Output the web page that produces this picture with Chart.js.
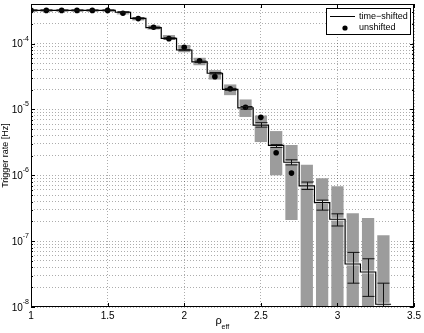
<!DOCTYPE html>
<html>
<head>
<meta charset="utf-8">
<script src="https://cdn.jsdelivr.net/npm/chart.js@4/dist/chart.umd.min.js"></script>
<style>
  html, body { margin: 0; padding: 0; background: #fff; }
  #wrap { width: 424px; height: 333px; }
</style>
</head>
<body>
<div id="wrap"><canvas id="chart" width="424" height="333"></canvas></div>
<script>
// bin centres of rho_eff
const bins = [1.0, 1.1, 1.2, 1.3, 1.4, 1.5, 1.6, 1.7, 1.8, 1.9, 2.0, 2.1,
  2.2, 2.3, 2.4, 2.5, 2.6, 2.7, 2.8, 2.9, 3.0, 3.1, 3.2, 3.3];

// time-shifted trigger rate (step line) and its error bars
const timeShifted = [3.2e-4, 3.2e-4, 3.2e-4, 3.2e-4, 3.2e-4, 3.2e-4, 3.0e-4, 2.42e-4,
  1.75e-4, 1.2e-4, 8.0e-5, 5.3e-5, 3.55e-5, 2.02e-5, 1.06e-5, 5.8e-6, 2.85e-6,
  1.58e-6, 6.9e-7, 3.85e-7, 2.15e-7, 4.5e-8, 3.4e-8, 1.1e-8];
const timeShiftedLow = [3.15e-4, 3.15e-4, 3.15e-4, 3.15e-4, 3.15e-4, 3.15e-4, 2.95e-4, 2.37e-4,
  1.71e-4, 1.17e-4, 7.8e-5, 5.15e-5, 3.45e-5, 1.95e-5, 1.01e-5, 5.4e-6, 2.65e-6,
  1.44e-6, 6.1e-7, 2.96e-7, 1.7e-7, 2.3e-8, 1.45e-8, 5e-9];
const timeShiftedHigh = [3.25e-4, 3.25e-4, 3.25e-4, 3.25e-4, 3.25e-4, 3.25e-4, 3.05e-4, 2.47e-4,
  1.79e-4, 1.23e-4, 8.2e-5, 5.45e-5, 3.65e-5, 2.09e-5, 1.11e-5, 6.3e-6, 2.95e-6,
  1.72e-6, 7.9e-7, 4.2e-7, 2.6e-7, 6.75e-8, 5.4e-8, 2.3e-8];

// unshifted trigger rate (dots), null = no triggers
const unshifted = [3.2e-4, 3.2e-4, 3.2e-4, 3.2e-4, 3.2e-4, 3.2e-4, 2.9e-4, 2.4e-4,
  1.77e-4, 1.19e-4, 8.8e-5, 5.5e-5, 3.15e-5, 2.06e-5, 1.08e-5, 7.6e-6, 2.2e-6,
  1.08e-6, null, null, null, null, null, null];

// grey uncertainty boxes, null low = reaches down to zero
const boxLow = [3.05e-4, 3.05e-4, 3.05e-4, 3.05e-4, 3.05e-4, 3.05e-4, 2.78e-4, 2.25e-4,
  1.63e-4, 1.15e-4, 7.4e-5, 4.7e-5, 2.85e-5, 1.65e-5, 7.7e-6, 3.2e-6, 1.0e-6,
  2.1e-7, null, null, null, null, null, null];
const boxHigh = [3.35e-4, 3.35e-4, 3.35e-4, 3.35e-4, 3.35e-4, 3.35e-4, 3.13e-4, 2.51e-4,
  1.89e-4, 1.35e-4, 9.55e-5, 6.1e-5, 3.95e-5, 2.4e-5, 1.42e-5, 8.1e-6, 4.7e-6,
  2.9e-6, 1.45e-6, 9.0e-7, 6.8e-7, 2.65e-7, 2.25e-7, 1.23e-7];

const xTicks = [1, 1.5, 2, 2.5, 3, 3.5];
const yMin = 1e-8, yMax = 4e-4;

const FONT = '"Liberation Sans", Arial, sans-serif';
const half = (bins[1] - bins[0]) / 2;

// step line: value held across each bin
const stepData = bins.map((b, i) => ({ x: b - half, y: timeShifted[i] }));
stepData.push({ x: bins[bins.length - 1] + half, y: timeShifted[timeShifted.length - 1] });

const isDecade = v => Math.abs(Math.log10(v) - Math.round(Math.log10(v))) < 1e-6;

const matlabLook = {
  id: 'matlabLook',
  afterDatasetsDraw(chart) {
    const { ctx, chartArea: a, scales: { x, y } } = chart;
    // error bars on the time-shifted curve
    ctx.save();
    ctx.beginPath();
    ctx.rect(a.left, a.top, a.right - a.left, a.bottom - a.top);
    ctx.clip();
    ctx.strokeStyle = '#111';
    ctx.lineWidth = 1;
    bins.forEach((b, i) => {
      const px = Math.round(x.getPixelForValue(b)) + 0.5;
      const lo = y.getPixelForValue(timeShiftedLow[i]);
      const hi = y.getPixelForValue(timeShiftedHigh[i]);
      ctx.beginPath();
      ctx.moveTo(px, lo); ctx.lineTo(px, hi);
      ctx.moveTo(px - 6, lo); ctx.lineTo(px + 6, lo);
      ctx.moveTo(px - 6, hi); ctx.lineTo(px + 6, hi);
      ctx.stroke();
    });
    ctx.restore();
  },
  afterDraw(chart) {
    const { ctx, chartArea: a, scales: { x, y } } = chart;
    ctx.save();
    ctx.strokeStyle = '#000';
    ctx.lineWidth = 1;
    // frame
    ctx.strokeRect(Math.round(a.left) + 0.5, Math.round(a.top) + 0.5,
      Math.round(a.right - a.left) - 1, Math.round(a.bottom - a.top) - 1);
    // inward tick marks
    ctx.beginPath();
    xTicks.forEach(v => {
      const px = Math.round(x.getPixelForValue(v)) + 0.5;
      ctx.moveTo(px, a.bottom); ctx.lineTo(px, a.bottom - 4);
      ctx.moveTo(px, a.top); ctx.lineTo(px, a.top + 4);
    });
    y.ticks.forEach(t => {
      const py = Math.round(y.getPixelForValue(t.value)) + 0.5;
      const len = isDecade(t.value) ? 4 : 2;
      ctx.moveTo(a.left, py); ctx.lineTo(a.left + len, py);
      ctx.moveTo(a.right, py); ctx.lineTo(a.right - len, py);
    });
    ctx.stroke();

    // y tick labels 10^n
    ctx.fillStyle = '#000';
    y.ticks.filter(t => isDecade(t.value)).forEach(t => {
      const py = y.getPixelForValue(t.value);
      const e = String(Math.round(Math.log10(t.value)));
      ctx.font = '7px ' + FONT;
      const ew = ctx.measureText(e).width;
      ctx.textAlign = 'left';
      ctx.textBaseline = 'middle';
      ctx.fillText(e, 29 - ew, py - 5);
      ctx.font = '10px ' + FONT;
      ctx.textAlign = 'right';
      ctx.fillText('10', 29 - ew, py + 1);
    });

    // axis titles
    ctx.font = '9px ' + FONT;
    ctx.textAlign = 'center';
    ctx.textBaseline = 'middle';
    ctx.save();
    ctx.translate(6, (a.top + a.bottom) / 2);
    ctx.rotate(-Math.PI / 2);
    ctx.fillText('Trigger rate [Hz]', 0, 0);
    ctx.restore();
    const cx = (a.left + a.right) / 2;
    ctx.textAlign = 'left';
    ctx.textBaseline = 'alphabetic';
    ctx.font = '11px ' + FONT;
    ctx.fillText('\u03c1', cx - 7, 324);
    ctx.font = '7px ' + FONT;
    ctx.fillText('eff', cx - 1, 329);

    // legend
    const lx = 326, ly = 8, lw = 84, lh = 26;
    ctx.fillStyle = '#fff';
    ctx.fillRect(lx, ly, lw, lh);
    ctx.strokeRect(lx + 0.5, ly + 0.5, lw, lh);
    ctx.beginPath();
    ctx.moveTo(330, 16.5); ctx.lineTo(355, 16.5);
    ctx.stroke();
    ctx.fillStyle = '#000';
    ctx.beginPath();
    ctx.arc(345, 28, 2.6, 0, Math.PI * 2);
    ctx.fill();
    ctx.font = '9px ' + FONT;
    ctx.textBaseline = 'middle';
    ctx.fillText('time\u2212shifted', 359, 16.5);
    ctx.fillText('unshifted', 359, 28);
    ctx.restore();
  }
};

new Chart(document.getElementById('chart'), {
  type: 'scatter',
  data: {
    datasets: [
      {
        type: 'bar',
        label: 'uncertainty',
        data: bins.map((b, i) => ({ x: b, y: [boxLow[i] ?? yMin, boxHigh[i]] })),
        backgroundColor: '#9c9c9c',
        borderWidth: 0,
        categoryPercentage: 1,
        barPercentage: 0.8,
        order: 4
      },
      {
        type: 'line',
        label: 'halo',
        data: stepData,
        stepped: 'before',
        borderColor: 'rgba(255,255,255,0.75)',
        borderWidth: 3,
        pointRadius: 0,
        fill: false,
        order: 3
      },
      {
        type: 'line',
        label: 'time\u2212shifted',
        data: stepData,
        stepped: 'before',
        borderColor: '#000',
        borderWidth: 1.2,
        pointRadius: 0,
        fill: false,
        order: 2
      },
      {
        type: 'scatter',
        label: 'unshifted',
        data: bins.map((b, i) => ({ x: b, y: unshifted[i] })),
        pointRadius: 2.8,
        pointBackgroundColor: '#000',
        pointBorderWidth: 0,
        order: 1
      }
    ]
  },
  options: {
    responsive: false,
    animation: false,
    events: [],
    layout: { padding: { top: 4, right: 8, left: 0, bottom: 0 } },
    plugins: { legend: { display: false }, tooltip: { enabled: false } },
    scales: {
      x: {
        type: 'linear',
        min: 1,
        max: 3.5,
        offset: false,
        afterBuildTicks: s => { s.ticks = xTicks.map(v => ({ value: v })); },
        afterFit: s => { s.height = 26; },
        ticks: {
          callback: v => String(v),
          font: { family: FONT, size: 10 },
          color: '#000',
          padding: 3,
          maxRotation: 0,
          autoSkip: false
        },
        grid: { color: 'rgba(0,0,0,0.32)', drawTicks: false, offset: false },
        border: { display: false, dash: [1, 2] }
      },
      y: {
        type: 'logarithmic',
        min: yMin,
        max: yMax,
        afterBuildTicks: s => {
          const t = [];
          for (let e = -8; e <= -4; e++) {
            for (let m = 1; m <= 9; m++) {
              const v = m * Math.pow(10, e);
              if (v <= yMax * 1.0001) t.push({ value: v });
            }
          }
          s.ticks = t;
        },
        afterFit: s => { s.width = 31; },
        ticks: { display: false, autoSkip: false },
        grid: { color: 'rgba(0,0,0,0.32)', drawTicks: false },
        border: { display: false, dash: [1, 2] }
      }
    }
  },
  plugins: [matlabLook]
});
</script>
</body>
</html>
